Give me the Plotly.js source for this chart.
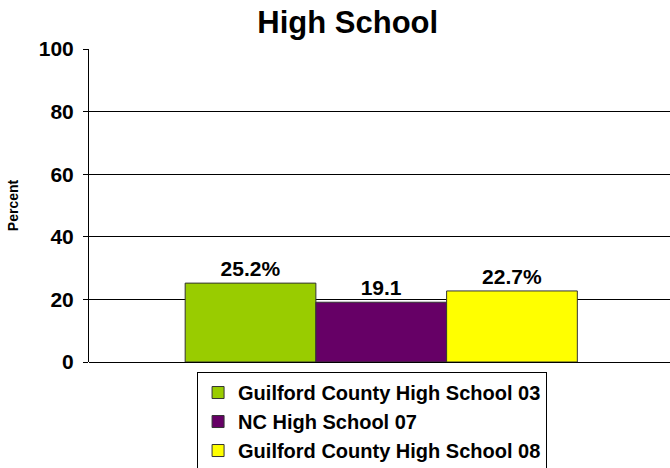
<!DOCTYPE html>
<html><head><meta charset="utf-8">
<script src="https://cdn.plot.ly/plotly-3.0.1.min.js"></script>
<style>html,body{margin:0;padding:0;background:#fff}#chart{width:670px;height:468px}</style>
</head><body><div id="chart"></div>
<script>
const category = ["High School"];
const seriesNames = ["Guilford County High School 03", "NC High School 07", "Guilford County High School 08"];
const seriesValues = [25.2, 19.1, 22.7];
const seriesLabels = ["25.2%", "19.1", "22.7%"];
const seriesColors = ["#99CC00", "#660066", "#FFFF00"];
const yTicks = [0, 20, 40, 60, 80, 100];

const font = "Liberation Sans, Arial, sans-serif";
const traces = seriesNames.map((n, i) => ({
  type: "bar", name: n, x: category, y: [seriesValues[i]],
  text: [seriesLabels[i]], textposition: "outside", cliponaxis: false,
  textfont: {family: font, size: 21, color: "#000", weight: "bold"},
  marker: {color: seriesColors[i], line: {color: "#333", width: 1}},
  hoverinfo: "none"
}));

Plotly.newPlot("chart", traces, {
  width: 670, height: 468,
  margin: {l: 89, r: 0, t: 49, b: 106, autoexpand: false},
  paper_bgcolor: "#fff", plot_bgcolor: "#fff",
  font: {family: font, color: "#000"},
  title: {text: "<b>High School</b>", font: {family: font, size: 31, color: "#000"}, x: 0.519, xanchor: "center", yref: "container", y: 0.953, yanchor: "middle"},
  barmode: "group", bargap: 0.325, bargroupgap: 0,
  xaxis: {showticklabels: false, showgrid: false, zeroline: false, showline: false, ticks: "", range: [-0.503, 0.497]},
  yaxis: {range: [0, 100], tickvals: yTicks, ticktext: yTicks.map(String), showgrid: true, gridcolor: "#000", gridwidth: 1,
    zeroline: true, zerolinecolor: "#000", zerolinewidth: 1, showline: true, linecolor: "#000", linewidth: 1,
    ticks: "outside", ticklen: 5, tickcolor: "#000", ticklabelstandoff: 5,
    tickfont: {family: font, size: 21, color: "#000", weight: "bold"},
    title: {text: "<b>Percent</b>", font: {family: font, size: 14, color: "#000"}, standoff: 16}},
  showlegend: true,
  legend: {x: 0.186, xanchor: "left", y: -0.032, yanchor: "top", orientation: "v",
    bgcolor: "#fff", bordercolor: "#000", borderwidth: 1,
    font: {family: font, size: 20, color: "#000", weight: "bold"}, traceorder: "normal"}
}, {staticPlot: true});
</script></body></html>
